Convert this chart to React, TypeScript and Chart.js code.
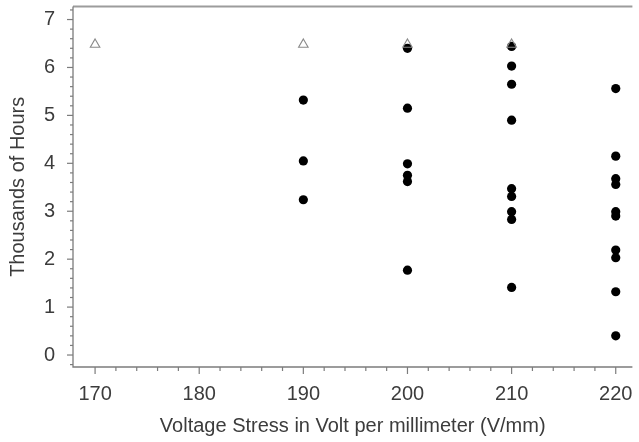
import React, { useEffect, useRef } from 'react';
import { Chart, registerables } from 'chart.js';

Chart.register(...registerables);

// Censored (still running) specimens, drawn as open triangles
const censoredVoltage = [170, 190, 200, 210];
const censoredHours = [6.48, 6.48, 6.48, 6.48];

// Failure times (thousands of hours) per voltage stress level
const voltageLevels = [190, 200, 210, 220];
const hours190 = [5.32, 4.05, 3.24];
const hours200 = [6.4, 5.15, 3.99, 3.75, 3.62, 1.77];
const hours210 = [6.44, 6.03, 5.65, 4.9, 3.47, 3.31, 2.99, 2.83, 1.41];
const hours220 = [5.56, 4.15, 3.68, 3.56, 2.99, 2.9, 2.19, 2.03, 1.32, 0.4];

// Axis ticks
const xMajorTicks = [170, 180, 190, 200, 210, 220];
const xMinorStep = 2;
const yMajorTicks = [0, 1, 2, 3, 4, 5, 6, 7];
const yMinorStep = 0.2;

const xTitle = 'Voltage Stress in Volt per millimeter (V/mm)';
const yTitle = 'Thousands of Hours';

const FONT = "'Liberation Sans', Arial, Helvetica, sans-serif";
const TEXT = '#3c3c3c';
const AXIS = '#7c7c7c';

const axisPlugin = {
  id: 'axisFrame',
  beforeDatasetsDraw(chart: any) {
    const { ctx, chartArea: a, scales } = chart;
    const xs = scales.x;
    const ys = scales.y;
    ctx.save();
    // top frame line
    ctx.strokeStyle = '#9c9c9c';
    ctx.lineWidth = 2;
    ctx.beginPath();
    ctx.moveTo(a.left, a.top);
    ctx.lineTo(a.right, a.top);
    ctx.stroke();
    // left and bottom axes
    ctx.strokeStyle = AXIS;
    ctx.lineWidth = 1.3;
    ctx.beginPath();
    ctx.moveTo(a.left, a.top);
    ctx.lineTo(a.left, a.bottom);
    ctx.lineTo(a.right, a.bottom);
    ctx.stroke();
    // x ticks
    ctx.lineWidth = 1.2;
    const xStart = xMajorTicks[0];
    for (let v = xStart; v <= xs.max + 1e-9; v += xMinorStep) {
      const px = xs.getPixelForValue(v);
      const major = xMajorTicks.includes(Math.round(v));
      ctx.beginPath();
      ctx.moveTo(px, a.bottom);
      ctx.lineTo(px, a.bottom + (major ? 7 : 4));
      ctx.stroke();
    }
    // y ticks
    for (let i = Math.ceil(ys.min / yMinorStep); i * yMinorStep <= ys.max + 1e-9; i++) {
      const v = i * yMinorStep;
      const py = ys.getPixelForValue(v);
      const major = yMajorTicks.some((t) => Math.abs(t - v) < 1e-6);
      ctx.beginPath();
      ctx.moveTo(a.left, py);
      ctx.lineTo(a.left - (major ? 6 : 3), py);
      ctx.stroke();
    }
    ctx.restore();
  },
};

export default function App() {
  const ref = useRef<HTMLCanvasElement | null>(null);

  useEffect(() => {
    if (!ref.current) return;
    const failurePoints: { x: number; y: number }[] = [];
    const groups = [hours190, hours200, hours210, hours220];
    groups.forEach((g, i) => g.forEach((h) => failurePoints.push({ x: voltageLevels[i], y: h })));
    const censoredPoints = censoredVoltage.map((v, i) => ({ x: v, y: censoredHours[i] }));

    const chart = new Chart(ref.current, {
      type: 'scatter',
      data: {
        datasets: [
          {
            label: 'Censored',
            data: censoredPoints,
            pointStyle: 'triangle',
            pointRadius: 5.5,
            pointBorderWidth: 1.1,
            borderColor: '#8a8a8a',
            backgroundColor: 'rgba(255,255,255,0)',
          },
          {
            label: 'Failure',
            data: failurePoints,
            pointStyle: 'circle',
            pointRadius: 4.6,
            pointBorderWidth: 0,
            borderColor: '#000',
            backgroundColor: '#000',
          },
        ],
      },
      options: {
        animation: false,
        responsive: true,
        maintainAspectRatio: false,
        layout: { padding: { top: 5, right: 0, left: 0, bottom: 0 } },
        plugins: { legend: { display: false }, tooltip: { enabled: false } },
        scales: {
          x: {
            type: 'linear',
            min: 167.88,
            max: 221.6,
            grid: { display: false, drawTicks: false },
            border: { display: false },
            ticks: {
              stepSize: 10,
              includeBounds: false,
              padding: 15,
              color: TEXT,
              font: { family: FONT, size: 20 },
              maxRotation: 0,
            },
            title: {
              display: true,
              text: xTitle,
              color: TEXT,
              font: { family: FONT, size: 20 },
              padding: { top: 0, bottom: 4 },
            },
            afterFit: (s: any) => {
              s.height = 75;
              s.paddingLeft = 0;
              s.paddingRight = 0;
            },
          },
          y: {
            type: 'linear',
            min: -0.25,
            max: 7.27,
            grid: { display: false, drawTicks: false },
            border: { display: false },
            ticks: {
              stepSize: 1,
              includeBounds: false,
              padding: 18,
              color: TEXT,
              font: { family: FONT, size: 20 },
            },
            title: {
              display: true,
              text: yTitle,
              color: TEXT,
              font: { family: FONT, size: 20 },
              padding: { top: 6, bottom: 0 },
            },
            afterFit: (s: any) => {
              s.width = 73;
              s.paddingTop = 0;
              s.paddingBottom = 0;
            },
          },
        },
      },
      plugins: [axisPlugin],
    });
    return () => chart.destroy();
  }, []);

  return (
    <div style={{ position: 'absolute', left: 0, top: 0, width: 639, height: 442, background: '#fff' }}>
      <canvas ref={ref} />
    </div>
  );
}
